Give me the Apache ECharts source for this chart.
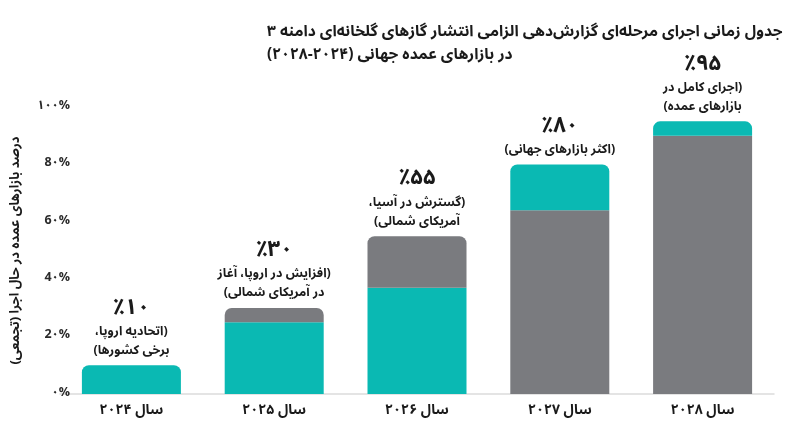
<!DOCTYPE html>
<html>
<head>
<meta charset="utf-8">
<script src="https://cdn.jsdelivr.net/npm/echarts@6/dist/echarts.min.js"></script>
<style>
html,body{margin:0;padding:0;background:#fff;}
#c{width:800px;height:447px;}
</style>
</head>
<body>
<div id="c"></div>
<script>
const titleLines = ['جدول زمانی اجرای مرحله‌ای گزارش‌دهی الزامی انتشار گازهای گلخانه‌ای دامنه ۳', 'در بازارهای عمده جهانی (۲۰۲۴-۲۰۲۸)'];
const yAxisTitle = 'درصد بازارهای عمده در حال اجرا (تجمعی)';
const categories = ['سال ۲۰۲۴', 'سال ۲۰۲۵', 'سال ۲۰۲۶', 'سال ۲۰۲۷', 'سال ۲۰۲۸'];
const tealBase = [10, 25, 37, 0, 0];
const greyMid = [0, 5, 18, 64, 90];
const tealTop = [0, 0, 0, 16, 5];
const totalLabels = ['٪۱۰', '٪۳۰', '٪۵۵', '٪۸۰', '٪۹۵'];
const notes = [
  ['(اتحادیه اروپا،', 'برخی کشورها)'],
  ['(افزایش در اروپا، آغاز', 'در آمریکای شمالی)'],
  ['(گسترش در آسیا،', 'آمریکای شمالی)'],
  ['(اکثر بازارهای جهانی)'],
  ['(اجرای کامل در', 'بازارهای عمده)']
];
const yTickValues = [0, 20, 40, 60, 80, 100];
const yTickLabels = ['۰%', '2۰%', '4۰%', '6۰%', '8۰%', '۱۰۰%'];

const RLE = '\u202B', PDF = '\u202C';
const rtl = s => RLE + s + PDF;
const TEAL = '#0ab9b3', GREY = '#7a7b7f';
const FONT = '"Noto Sans Arabic", "Noto Kufi Arabic", "Vazirmatn", "DejaVu Sans", sans-serif';

const seriesData = [tealBase, greyMid, tealTop];
const colors = [TEAL, GREY, TEAL];
const topIdx = categories.map((_, i) => {
  let t = 0;
  seriesData.forEach((arr, s) => { if (arr[i] > 0) t = s; });
  return t;
});

const series = seriesData.map((arr, s) => ({
  type: 'bar',
  stack: 'total',
  barWidth: 99,
  data: arr.map((v, i) => ({
    value: v,
    itemStyle: { color: colors[s], borderRadius: topIdx[i] === s ? [7, 7, 0, 0] : 0 }
  })),
  emphasis: { disabled: true }
}));

series.push({
  type: 'bar',
  stack: 'total',
  barWidth: 99,
  data: categories.map(() => 0),
  itemStyle: { color: 'transparent' },
  label: {
    show: true,
    position: 'top',
    distance: 4,
    align: 'center',
    formatter: p => {
      const i = p.dataIndex;
      return '{p|' + rtl(totalLabels[i]) + '}\n' + notes[i].map(l => '{d|' + rtl(l) + '}').join('\n');
    },
    rich: {
      p: { fontFamily: FONT, fontSize: 22, fontWeight: 'bold', color: '#1a1a1a', lineHeight: 26, align: 'center' },
      d: { fontFamily: FONT, fontSize: 12.5, fontWeight: 'bold', color: '#1a1a1a', lineHeight: 19, align: 'center' }
    }
  },
  emphasis: { disabled: true }
});

const chart = echarts.init(document.getElementById('c'), null, { renderer: 'canvas' });
chart.setOption({
  animation: false,
  backgroundColor: '#ffffff',
  title: {
    text: titleLines.map(rtl).join('\n'),
    left: 262,
    top: 17,
    textStyle: { fontFamily: FONT, fontSize: 15.5, fontWeight: 'bold', color: '#1a1a1a', lineHeight: 23, align: 'left' }
  },
  grid: { left: 60, right: 26, top: 107, bottom: 53 },
  xAxis: {
    type: 'category',
    data: categories.map(rtl),
    axisLine: { lineStyle: { color: '#dcdcdc', width: 1.5 } },
    axisTick: { show: false },
    axisLabel: { margin: 11, fontFamily: FONT, fontSize: 14, fontWeight: 'bold', color: '#1a1a1a' }
  },
  yAxis: {
    type: 'value',
    min: 0,
    max: 100,
    interval: 20,
    name: rtl(yAxisTitle),
    nameLocation: 'middle',
    nameGap: 36,
    nameTextStyle: { fontFamily: FONT, fontSize: 13, fontWeight: 'bold', color: '#1a1a1a' },
    axisLine: { show: false },
    axisTick: { show: false },
    splitLine: { show: false },
    axisLabel: {
      margin: -10,
      fontFamily: FONT,
      fontSize: 12.5,
      fontWeight: 'bold',
      color: '#2a2a2a',
      formatter: v => yTickLabels[yTickValues.indexOf(v)]
    }
  },
  series: series
});
</script>
</body>
</html>
